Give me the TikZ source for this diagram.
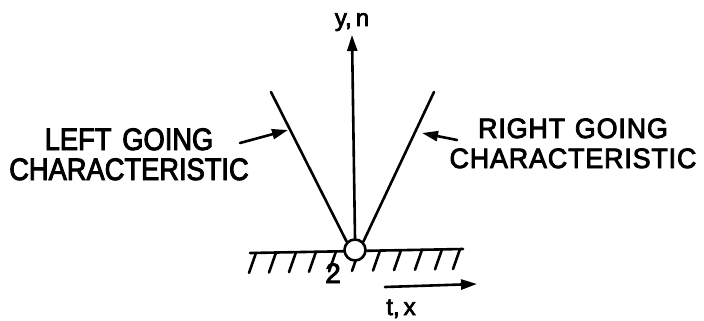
\documentclass[tikz,border=0pt]{standalone}
\usepackage{fontspec}
\setmainfont{Liberation Sans}
\newfontfamily\lettL[FakeStretch=0.88,FakeBold=3]{Liberation Sans}
\newfontfamily\lettR[FakeStretch=0.96,FakeBold=3,LetterSpace=3]{Liberation Sans}
\newfontfamily\lettA[FakeBold=3]{Liberation Sans}
\usetikzlibrary{arrows.meta}
\begin{document}
\begin{tikzpicture}[x=1pt,y=-1pt,
  ln/.style={line width=2.6pt,line cap=round},
  arr/.style={ln,-{Triangle[length=16pt,width=10pt]}},
  lbl/.style={align=center,inner sep=0pt},
  axl/.style={font=\lettA\fontsize{24}{28}\selectfont,inner sep=0pt}]
\useasboundingbox (0,0) rectangle (704,321);
% ground
\coordinate (gl) at (250,253);
\coordinate (gr) at (463,249);
\draw[ln] (gl) -- (gr);
\foreach \x in {256,276,296,316,336,359,380,401,422,442,460}{
  \draw[ln] (\x,{253-(\x-250)*4/213}) -- ++(-7,20);
}
\node[circle,draw,line width=2.6pt,fill=white,minimum size=21pt,inner sep=0pt] (pt) at (355,250) {};
% vertical axis
\coordinate (ytop) at (352,35);
\draw[arr] (pt.north) -- (ytop);
\node[axl,anchor=base] (ylab) at (352,26) {y,\,n};
% characteristics
\coordinate (ltop) at (271,92);
\coordinate (rtop) at (434,92);
\draw[ln] (pt.north west) -- (ltop);
\draw[ln] (pt.north east) -- (rtop);
\coordinate (lmid) at (288,130);
\coordinate (rmid) at (422,133);
\node[lbl,anchor=base,font=\lettL\fontsize{31}{30}\selectfont] (ltext) at (129,180) {LEFT\hspace{0.35em}GOING\\CHARACTERISTIC};
\node[lbl,anchor=base,font=\lettR\fontsize{28}{30}\selectfont] (rtext) at (573,168) {RIGHT\hspace{0.35em}GOING\\CHARACTERISTIC};
\coordinate (lfrom) at (240,143);
\coordinate (rfrom) at (457,140);
\draw[arr] (lfrom) -- (lmid);
\draw[arr] (rfrom) -- (rmid);
% labels
\node[anchor=base,inner sep=0pt,font=\lettA\fontsize{28}{30}\selectfont] (two) at (333,283) {2};
\coordinate (xs) at (385,287);
\coordinate (xe) at (477,284);
\draw[arr] (xs) -- (xe);
\node[axl,anchor=base] (xlab) at (401,315) {t,\,x};
\end{tikzpicture}
\end{document}
